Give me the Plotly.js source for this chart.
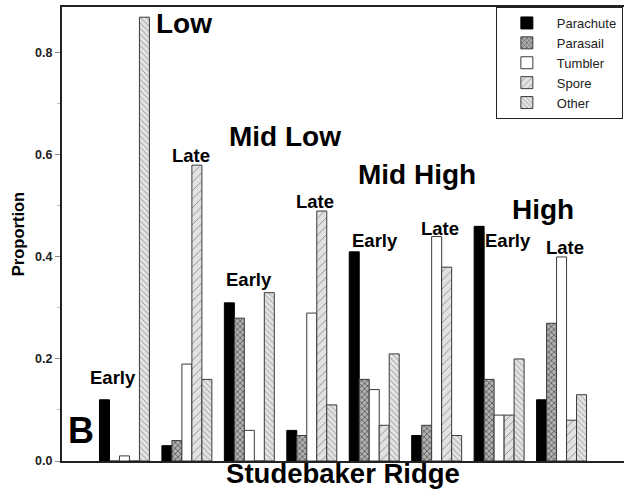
<!DOCTYPE html>
<html>
<head>
<meta charset="utf-8">
<script src="https://cdn.plot.ly/plotly-3.0.1.min.js"></script>
<style>html,body{margin:0;padding:0;background:#fff;}#chart{width:624px;height:497px;}</style>
</head>
<body>
<div id="chart"></div>
<script>
// ---- Data ----
const categories = ['Low Early','Low Late','Mid Low Early','Mid Low Late','Mid High Early','Mid High Late','High Early','High Late'];
const parachute = [0.12, 0.03, 0.31, 0.06, 0.41, 0.05, 0.46, 0.12];
const parasail  = [0.00, 0.04, 0.28, 0.05, 0.16, 0.07, 0.16, 0.27];
const tumbler   = [0.01, 0.19, 0.06, 0.29, 0.14, 0.44, 0.09, 0.40];
const spore     = [0.00, 0.58, 0.00, 0.49, 0.07, 0.38, 0.09, 0.08];
const other     = [0.87, 0.16, 0.33, 0.11, 0.21, 0.05, 0.20, 0.13];
const seriesNames = ['Parachute','Parasail','Tumbler','Spore','Other'];
const yTickVals = [0, 0.2, 0.4, 0.6, 0.8];
const yTickText = ['0.0','0.2','0.4','0.6','0.8'];

// group labels: [text, category position, y]
const stageLabels = [
  ['Early', -0.18, 0.163], ['Late', 1.07, 0.598],
  ['Early', 2.0, 0.355],   ['Late', 3.05, 0.508],
  ['Early', 4.01, 0.433],  ['Late', 5.05, 0.455],
  ['Early', 6.15, 0.433],  ['Late', 7.06, 0.418]
];
const siteLabels = [
  ['Low', 0.96, 0.857], ['Mid Low', 2.57, 0.637],
  ['Mid High', 4.68, 0.561], ['High', 6.70, 0.494]
];

const FONT = '"Liberation Sans", Arial, Helvetica, sans-serif';
const outline = {color: '#3a3a3a', width: 1};
const xIdx = categories.map((c, i) => i);

const styles = [
  {color: '#000000', line: {color: '#000', width: 1}},
  {color: '#9a9a9a', line: outline, pattern: {shape: 'x', bgcolor: '#b0b0b0', fgcolor: '#555', size: 4, solidity: 0.35, fillmode: 'replace'}},
  {color: '#ffffff', line: outline},
  {color: '#dcdcdc', line: outline, pattern: {shape: '/', bgcolor: '#e2e2e2', fgcolor: '#8a8a8a', size: 6, solidity: 0.15, fillmode: 'replace'}},
  {color: '#dcdcdc', line: outline, pattern: {shape: '\\', bgcolor: '#e2e2e2', fgcolor: '#8a8a8a', size: 4, solidity: 0.2, fillmode: 'replace'}}
];
const values = [parachute, parasail, tumbler, spore, other];

const traces = values.map((v, i) => ({
  type: 'bar', x: xIdx, y: v, name: seriesNames[i], marker: styles[i]
}));

const annotations = [];
stageLabels.forEach(l => annotations.push({
  text: '<b>' + l[0] + '</b>', x: l[1], y: l[2], xref: 'x', yref: 'y',
  xanchor: 'center', yanchor: 'middle',
  showarrow: false, font: {family: FONT, size: 18.5, color: '#000'}
}));
siteLabels.forEach(l => annotations.push({
  text: '<b>' + l[0] + '</b>', x: l[1], y: l[2], xref: 'x', yref: 'y',
  xanchor: 'center', yanchor: 'middle',
  showarrow: false, font: {family: FONT, size: 28, color: '#000'}
}));
annotations.push({
  text: '<b>B</b>', x: 0.034, y: 0.068, xref: 'paper', yref: 'paper',
  xanchor: 'center', yanchor: 'middle',
  showarrow: false, font: {family: FONT, size: 36, color: '#000'}
});

const layout = {
  width: 624, height: 497,
  margin: {l: 62, r: 0, t: 7, b: 36},
  paper_bgcolor: '#fff', plot_bgcolor: '#fff',
  font: {family: FONT, color: '#222'},
  barmode: 'group', bargap: 0.2, bargroupgap: 0,
  showlegend: true,
  legend: {
    x: 0.772, y: 1, xanchor: 'left', yanchor: 'top',
    bordercolor: '#222', borderwidth: 1, bgcolor: '#fff',
    font: {family: FONT, size: 13, color: '#222'},
    itemwidth: 50, tracegroupgap: 0
  },
  xaxis: {
    range: [-1, 8], showticklabels: false, ticks: '', showgrid: false, zeroline: false,
    showline: true, linecolor: '#222', linewidth: 2, mirror: true,
    title: {text: '<b>Studebaker Ridge</b>', font: {family: FONT, size: 27.5, color: '#000'}, standoff: 2}
  },
  yaxis: {
    range: [0, 0.89], tickvals: yTickVals, ticktext: yTickText,
    ticks: 'outside', ticklen: 5, tickwidth: 1, tickcolor: '#888',
    minor: {dtick: 0.1, ticks: 'outside', ticklen: 3, tickcolor: '#bbb'},
    tickfont: {family: FONT, size: 12.5, color: '#222', weight: 'bold'},
    showgrid: false, zeroline: false,
    showline: true, linecolor: '#222', linewidth: 2,
    title: {text: '<b>Proportion</b>', font: {family: FONT, size: 16.5, color: '#000'}, standoff: 6}
  },
  annotations: annotations
};

Plotly.newPlot('chart', traces, layout, {displayModeBar: false, staticPlot: true});
</script>
</body>
</html>
